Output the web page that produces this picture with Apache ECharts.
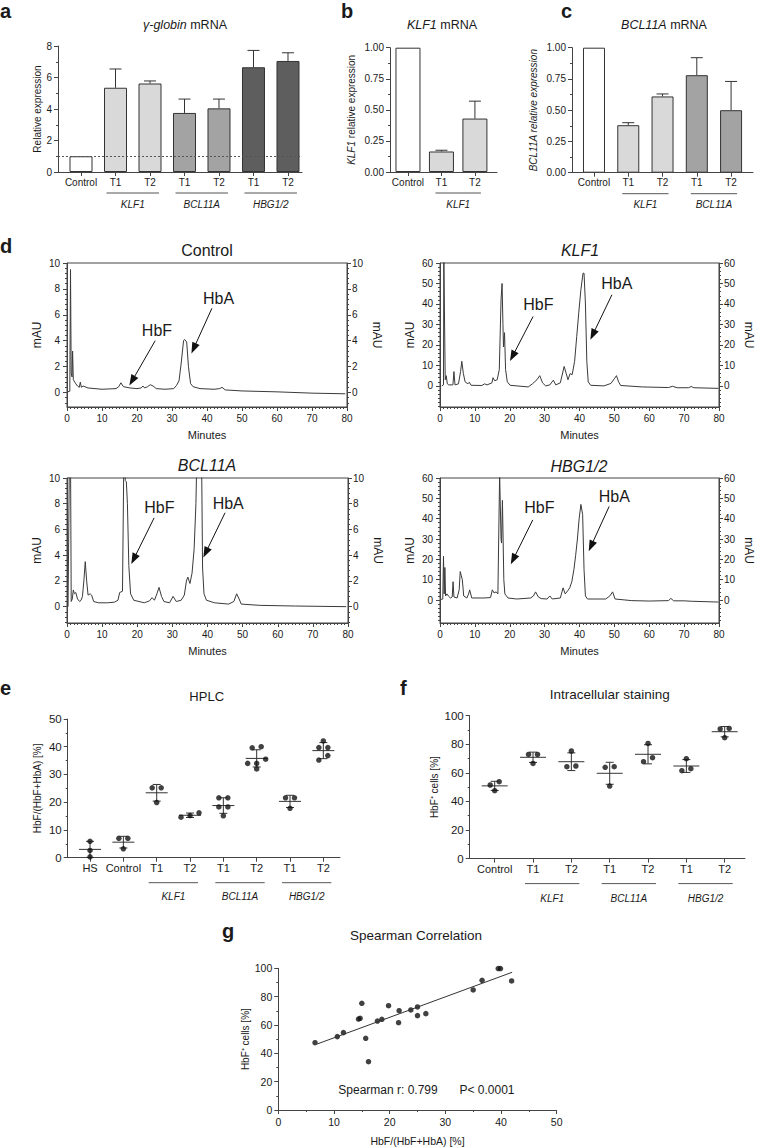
<!DOCTYPE html>
<html>
<head>
<meta charset="utf-8">
<script src="https://cdn.jsdelivr.net/npm/echarts@6.0.0/dist/echarts.min.js"></script>
<style>
html, body { margin: 0; padding: 0; background: #fff; }
#main { width: 758px; height: 1147px; }
</style>
</head>
<body>
<div id="main"></div>
<script>
// ---------- a: gamma-globin mRNA ----------
const aNames = ['Control', 'T1', 'T2', 'T1', 'T2', 'T1', 'T2']
const aGene = ['', 'KLF1', 'KLF1', 'BCL11A', 'BCL11A', 'HBG1/2', 'HBG1/2']
const aMean = [1.0, 5.35, 5.62, 3.75, 4.04, 6.65, 7.05]
const aUpper = [null, 6.54, 5.78, 4.63, 4.63, 7.72, 7.57]

// ---------- b: KLF1 mRNA ----------
const bNames = ['Control', 'T1', 'T2']
const bGene = ['', 'KLF1', 'KLF1']
const bMean = [1.0, 0.165, 0.43]
const bUpper = [null, 0.175, 0.57]

// ---------- c: BCL11A mRNA ----------
const cNames = ['Control', 'T1', 'T2', 'T1', 'T2']
const cGene = ['', 'KLF1', 'KLF1', 'BCL11A', 'BCL11A']
const cMean = [1.0, 0.38, 0.61, 0.78, 0.50]
const cUpper = [null, 0.40, 0.63, 0.92, 0.73]

// ---------- d: HPLC chromatograms [minutes, mAU] ----------
const controlTrace = [[0.2, 0.05], [0.8, 0.1], [1.0, 9.5], [1.2, 1.5], [1.45, 1.2], [1.6, 3.2], [1.8, 1.0], [2.2, 0.8], [3.0, 0.5], [3.5, 0.4], [3.8, 0.8], [4.1, 0.4], [4.6, 0.5], [6, 0.35], [10, 0.25], [14, 0.3], [14.8, 0.45], [15.4, 0.75], [16.1, 0.45], [18, 0.35], [20, 0.3], [21.2, 0.35], [21.7, 0.5], [22.2, 0.35], [23, 0.45], [23.8, 0.6], [24.6, 0.5], [25.5, 0.3], [28, 0.25], [30.5, 0.3], [31.3, 0.55], [32.0, 0.9], [32.6, 2.2], [33.3, 4.0], [33.6, 4.1], [34.2, 3.9], [34.7, 2.0], [35.3, 0.7], [36, 0.45], [38, 0.3], [42, 0.25], [43.6, 0.3], [44.3, 0.4], [45.2, 0.2], [50, 0.12], [60, 0.05], [70, -0.05], [79.5, -0.1]]
const klf1Trace = [[0.5, 0], [1.0, 0.5], [1.1, 62], [1.5, 3], [1.8, 5], [2.1, 1], [2.5, 0.5], [3.7, 0.5], [4.0, 7], [4.3, 0.5], [5.3, 1], [5.9, 7], [6.25, 12], [6.7, 6], [7.2, 2], [8.0, 1], [8.4, 1.8], [8.9, 0.3], [12, 0.2], [12.8, 1], [13.5, 0.5], [14.9, 1.5], [15.2, 4], [15.7, 2.5], [16.4, 3], [17.0, 8], [17.5, 42], [17.8, 50], [18.05, 30], [18.2, 19], [18.5, 26], [18.8, 8], [19.3, 2], [20.1, 0.3], [25.3, -0.5], [26.5, 1], [27.8, 3], [28.6, 5], [29.4, 1.5], [30.3, 0], [31.5, 0.5], [32.5, 2.8], [33.2, 0.5], [34.5, 1.5], [35.6, 9.5], [36.2, 6], [36.7, 3], [37.3, 6], [37.9, 5.5], [38.6, 12], [39.2, 24], [39.8, 36], [40.4, 47], [41.0, 55], [41.3, 55], [41.7, 40], [42.1, 12], [42.5, 2], [43.2, 0.3], [47, 0], [49, 1.2], [50, 3.5], [50.6, 5], [51.2, 2], [51.8, 0.2], [58, -0.5], [65.5, -0.8], [66.7, -0.2], [68, -0.9], [71.3, -0.9], [72, -0.3], [72.8, -0.9], [79.8, -1.2]]
const bcl11aTrace = [[0.3, 0], [0.7, 12], [1.0, 12], [1.2, 0.4], [1.5, 0.6], [1.8, 1.3], [2.1, 1.0], [2.5, 1.1], [3.0, 0.6], [3.6, 0.4], [4.0, 0.5], [4.4, 0.8], [4.8, 2.0], [5.2, 3.5], [5.6, 2.0], [6.0, 0.9], [6.6, 1.0], [7.0, 0.9], [7.6, 0.4], [9, 0.3], [11.5, 0.3], [13.5, 0.35], [14.5, 0.5], [15.0, 1.1], [15.8, 1.2], [16.2, 12], [16.6, 9.8], [16.9, 9.7], [17.2, 8], [17.6, 3.2], [18.1, 1.0], [19, 0.5], [22, 0.3], [23.5, 0.45], [24.2, 0.7], [24.9, 0.5], [25.6, 1.0], [26.2, 1.5], [26.9, 0.8], [27.6, 0.4], [29.2, 0.3], [30.2, 0.8], [31.1, 0.4], [32.5, 0.5], [33.4, 0.9], [34.0, 2.0], [34.4, 2.3], [35.0, 1.8], [35.6, 2.6], [36.2, 4.5], [36.7, 8], [37.0, 12], [38.3, 12], [38.6, 3], [39.0, 1.0], [39.7, 0.5], [42, 0.3], [46, 0.2], [47.5, 0.4], [48.3, 1.0], [49.0, 0.6], [49.6, 0.2], [55, 0.1], [65, 0.05], [79.5, 0]]
const hbgTrace = [[0.3, 0.3], [0.8, 0.5], [1.0, 21.5], [1.2, 3], [1.4, 16], [1.6, 2], [2.0, 3], [2.4, 2], [3.0, 1], [3.5, 1.5], [3.75, 9], [4.0, 1.5], [4.9, 1], [5.5, 5], [5.8, 14], [6.1, 12], [6.4, 10], [6.8, 2], [7.7, 1], [8.2, 3], [8.5, 5], [9.1, 1], [12.6, 1], [14.5, 1.2], [15.0, 5], [15.5, 3.5], [16.1, 4], [16.6, 3], [17.1, 62], [17.5, 30], [17.65, 28], [17.9, 49], [18.3, 10], [18.6, 3], [19.5, 1], [22, 0.5], [26, 1], [26.8, 2], [27.4, 4], [28.2, 1.5], [29, 0.7], [30.7, 0.5], [31.5, 2], [32.2, 0.5], [34.5, 1], [35.3, 6], [35.9, 3], [36.6, 4.5], [37.2, 6], [37.8, 9], [38.4, 15], [38.9, 22], [39.4, 30], [39.9, 40], [40.4, 47], [40.9, 42], [41.3, 15], [41.7, 2], [42.3, 0.5], [47.5, 0.5], [48.7, 2], [49.5, 4], [50.2, 0.5], [55, -0.3], [60, -0.5], [65.5, -0.3], [66.2, 0.8], [67, -0.4], [70, -0.4], [72, -0.6], [79.8, -1]]

// ---------- e: HPLC HbF/(HbF+HbA) [%] ----------
const eNames = ['HS', 'Control', 'T1', 'T2', 'T1', 'T2', 'T1', 'T2']
const eGene = ['', '', 'KLF1', 'KLF1', 'BCL11A', 'BCL11A', 'HBG1/2', 'HBG1/2']
const ePoints = [
  [5.9, 2.6, 0.3],
  [7.0, 7.0, 3.2],
  [25.2, 25.2, 19.9],
  [16.2, 15.2, 14.6],
  [21.6, 21.6, 18.3, 18.3, 15.1],
  [39.6, 40.0, 34.0, 35.5, 34.0, 32.0],
  [21.6, 21.6, 17.8],
  [42.1, 39.7, 39.7, 35.2, 36.8]
]
const eMean = [3.0, 5.6, 23.4, 15.3, 18.8, 35.8, 20.3, 38.6]
const eSD = [2.9, 2.1, 3.0, 0.8, 2.8, 3.1, 2.2, 2.9]

// ---------- f: intracellular staining, HbF+ cells [%] ----------
const fNames = ['Control', 'T1', 'T2', 'T1', 'T2', 'T1', 'T2']
const fGene = ['', 'KLF1', 'KLF1', 'BCL11A', 'BCL11A', 'HBG1/2', 'HBG1/2']
const fPoints = [
  [51.5, 53.8, 47.5],
  [72.9, 72.9, 66.6],
  [75.3, 64.3, 64.8],
  [63.9, 64.3, 50.8],
  [80.6, 67.8, 70.6],
  [69.9, 61.5, 62.9],
  [90.7, 91.1, 84.6]
]
const fMean = [50.9, 70.9, 67.8, 59.7, 73.0, 64.8, 88.8]
const fSD = [3.2, 3.6, 6.2, 7.7, 6.7, 4.5, 3.6]

// ---------- g: Spearman correlation ----------
const gHplc = [6.6, 10.6, 11.7, 14.4, 14.7, 15.0, 15.7, 16.2, 17.8, 18.6, 19.8, 21.6, 21.7, 23.8, 25.0, 25.0, 26.5, 35.0, 36.6, 39.5, 39.9, 41.9]
const gStain = [47.5, 51.8, 54.6, 64.2, 64.7, 75.3, 50.6, 34.1, 62.8, 64.0, 73.6, 61.6, 70.1, 70.6, 66.6, 72.7, 68.0, 84.7, 91.5, 99.8, 99.8, 91.1]
const gFitX = [7, 42]
const gFitY = [46.6, 97.2]

// ---------- styles ----------
const FONT = '"Liberation Sans", Arial, sans-serif'
const INK = '#1a1a1a'
const AXIS = '#444'
const geneFill = { '': '#ffffff', 'KLF1': '#d9d9d9', 'BCL11A': '#a3a3a3', 'HBG1/2': '#5e5e5e' }

const chart = echarts.init(document.getElementById('main'), null, { renderer: 'svg' })

const grids = []
const xAxes = []
const yAxes = []
const series = []

const lineStyle = { color: AXIS, width: 1 }
const axisLine = { show: true, onZero: false, lineStyle: lineStyle }

function labelStyle(size, extra) {
  return Object.assign({ fontSize: size || 10, color: INK, fontFamily: FONT }, extra)
}
function nameStyle(size) {
  const s = size || 10
  return {
    fontSize: s, color: INK, fontFamily: FONT,
    rich: {
      i: { fontSize: s, fontStyle: 'italic', color: INK, fontFamily: FONT },
      n: { fontSize: s, color: INK, fontFamily: FONT }
    }
  }
}

// one tick per group on a value axis, so the groups sit where the picture puts them
function groupXAxis(gi, names, range, size) {
  const idx = names.map((_, i) => i)
  xAxes.push({
    gridIndex: gi, type: 'value', min: range[0], max: range[1],
    axisLine: axisLine, splitLine: { show: false },
    axisTick: { show: true, customValues: idx, length: 4, lineStyle: lineStyle },
    axisLabel: labelStyle(size, { customValues: idx, margin: 5, formatter: v => names[Math.round(v)] })
  })
  return xAxes.length - 1
}

function valueYAxis(gi, max, step, name, gap, size, fmt) {
  yAxes.push({
    gridIndex: gi, type: 'value', min: 0, max: max, interval: step,
    axisLine: axisLine, splitLine: { show: false },
    axisTick: { show: true, length: 4, lineStyle: lineStyle },
    minorTick: { show: true, splitNumber: 2, length: 2, lineStyle: lineStyle },
    axisLabel: labelStyle(size, { margin: 6, formatter: fmt }),
    name: name, nameLocation: 'middle', nameGap: gap, nameTextStyle: nameStyle(10)
  })
  return yAxes.length - 1
}

// upper error bar on a bar
function upperBar(params, api) {
  const x = api.value(0)
  const base = api.coord([x, api.value(1)])
  const top = api.coord([x, api.value(2)])
  const st = { stroke: '#333', lineWidth: 1 }
  return {
    type: 'group', children: [
      { type: 'line', shape: { x1: base[0], y1: base[1], x2: top[0], y2: top[1] }, style: st },
      { type: 'line', shape: { x1: top[0] - 6, y1: top[1], x2: top[0] + 6, y2: top[1] }, style: st }
    ]
  }
}

// mean line with +/- SD whiskers
function meanSd(meanHalf) {
  return function (params, api) {
    const x = api.value(0), m = api.value(1), sd = api.value(2)
    const mid = api.coord([x, m])
    const hi = api.coord([x, m + sd])
    const lo = api.coord([x, m - sd])
    const st = { stroke: '#333', lineWidth: 1 }
    return {
      type: 'group', children: [
        { type: 'line', shape: { x1: hi[0], y1: hi[1], x2: lo[0], y2: lo[1] }, style: st },
        { type: 'line', shape: { x1: hi[0] - 4, y1: hi[1], x2: hi[0] + 4, y2: hi[1] }, style: st },
        { type: 'line', shape: { x1: lo[0] - 4, y1: lo[1], x2: lo[0] + 4, y2: lo[1] }, style: st },
        { type: 'line', shape: { x1: mid[0] - meanHalf, y1: mid[1], x2: mid[0] + meanHalf, y2: mid[1] }, style: st }
      ]
    }
  }
}

// spread dots of nearly equal value side by side, like a scatter dot plot
function dotLayout(groups, tol, gap) {
  const out = []
  groups.forEach((vals, gi) => {
    const rows = []
    vals.slice().sort((a, b) => a - b).forEach(v => {
      const row = rows[rows.length - 1]
      if (row && v - row[0] < tol) row.push(v)
      else rows.push([v])
    })
    rows.forEach(row => row.forEach((v, k) => {
      out.push({ value: [gi, v], symbolOffset: [(k - (row.length - 1) / 2) * gap, 0] })
    }))
  })
  return out
}

function barPanel(box, range, yMax, yStep, yName, gap, fmt, names, gene, mean, upper, barW) {
  const gi = grids.push(box) - 1
  const xi = groupXAxis(gi, names, range, 10)
  const yi = valueYAxis(gi, yMax, yStep, yName, gap, 10, fmt)
  series.push({
    type: 'bar', xAxisIndex: xi, yAxisIndex: yi, barWidth: barW,
    itemStyle: { borderColor: '#333', borderWidth: 1 },
    data: mean.map((v, i) => ({ value: [i, v], itemStyle: { color: geneFill[gene[i]] } }))
  })
  const barIndex = series.length - 1
  series.push({
    type: 'custom', xAxisIndex: xi, yAxisIndex: yi, renderItem: upperBar,
    data: mean.map((v, i) => [i, v, upper[i]]).filter(d => d[2] != null)
  })
  return { gi: gi, bar: barIndex }
}

function dotPanel(box, range, yMax, yStep, yName, gap, names, points, mean, sd, tol, meanHalf) {
  const gi = grids.push(box) - 1
  const xi = groupXAxis(gi, names, range, 11)
  const yi = valueYAxis(gi, yMax, yStep, yName, gap, 11.5)
  series.push({
    type: 'custom', xAxisIndex: xi, yAxisIndex: yi, renderItem: meanSd(meanHalf),
    data: mean.map((m, i) => [i, m, sd[i]])
  })
  series.push({
    type: 'scatter', xAxisIndex: xi, yAxisIndex: yi, symbolSize: 5.5,
    itemStyle: { color: '#111' },
    data: dotLayout(points, tol, 9)
  })
  return gi
}

function chromPanel(box, yMin, yMax, yStep, trace, notes) {
  const gi = grids.push(Object.assign({ show: true, borderColor: AXIS, borderWidth: 1 }, box)) - 1
  xAxes.push({
    gridIndex: gi, type: 'value', min: 0, max: 80, interval: 10,
    name: 'Minutes', nameLocation: 'middle', nameGap: 22, nameTextStyle: nameStyle(11),
    axisLine: axisLine, splitLine: { show: false },
    axisTick: { length: 4, lineStyle: lineStyle },
    minorTick: { show: true, splitNumber: 10, length: 2, lineStyle: lineStyle },
    axisLabel: labelStyle(10, { margin: 6 })
  })
  const xi = xAxes.length - 1
  const minorStep = yStep / 5
  const majors = [], minors = []
  for (let k = Math.ceil(yMin / minorStep); k * minorStep <= yMax + 1e-9; k++) {
    const v = Math.round(k * minorStep * 1000) / 1000
    minors.push(v)
    if (v >= 0 && k % 5 === 0) majors.push(v)
  }
  const base = { gridIndex: gi, type: 'value', min: yMin, max: yMax, splitLine: { show: false } }
  yAxes.push(Object.assign({}, base, {
    position: 'left', axisLine: axisLine,
    axisTick: { customValues: majors, length: 4, lineStyle: lineStyle },
    axisLabel: labelStyle(10, { customValues: majors, margin: 7 }),
    name: 'mAU', nameLocation: 'middle', nameGap: 24, nameTextStyle: nameStyle(12)
  }))
  const yi = yAxes.length - 1
  yAxes.push(Object.assign({}, base, {
    position: 'left', axisLine: { show: false },
    axisTick: { customValues: minors, length: 2, lineStyle: lineStyle }, axisLabel: { show: false }
  }))
  yAxes.push(Object.assign({}, base, {
    position: 'right', axisLine: axisLine,
    axisTick: { customValues: majors, length: 4, lineStyle: lineStyle },
    axisLabel: labelStyle(10, { customValues: majors, margin: 5 }),
    name: 'mAU', nameLocation: 'middle', nameGap: 24, nameRotate: -90, nameTextStyle: nameStyle(12)
  }))
  yAxes.push(Object.assign({}, base, {
    position: 'right', axisLine: { show: false },
    axisTick: { customValues: minors, length: 2, lineStyle: lineStyle }, axisLabel: { show: false }
  }))
  series.push({
    type: 'line', xAxisIndex: xi, yAxisIndex: yi, data: trace, showSymbol: false, clip: true,
    lineStyle: { color: '#3a3a3a', width: 1 },
    markLine: {
      silent: true, symbol: ['none', 'triangle'], symbolSize: [8, 11],
      lineStyle: { color: '#111', width: 1, type: 'solid' }, label: { show: false },
      data: notes.map(n => [{ coord: n.from }, { coord: n.to }])
    },
    markPoint: {
      silent: true, symbol: 'circle', symbolSize: 0,
      label: { show: true, position: 'inside', formatter: p => p.name, fontSize: 16, color: INK, fontFamily: FONT },
      data: notes.map(n => ({ name: n.text, coord: n.at }))
    }
  })
}

// ---------- build the panels ----------
const pa = barPanel({ left: 58, top: 46, width: 244, height: 126 }, [-0.667, 6.406], 8, 2,
  'Relative expression', 15, null, aNames, aGene, aMean, aUpper, 23)
series[pa.bar].markLine = {
  silent: true, symbol: 'none', label: { show: false },
  lineStyle: { type: [2, 2], color: '#555', width: 1 },
  data: [{ yAxis: 1 }]
}
const pb = barPanel({ left: 390, top: 47.7, width: 107, height: 124.3 }, [-0.537, 2.66], 1, 0.25,
  '{i|KLF1}{n| relative expression}', 34, v => v.toFixed(2), bNames, bGene, bMean, bUpper, 25)
const pc = barPanel({ left: 572, top: 47.7, width: 181, height: 125 }, [-0.642, 4.64], 1, 0.25,
  '{i|BCL11A relative expression}', 34, v => v.toFixed(2), cNames, cGene, cMean, cUpper, 22)

chromPanel({ left: 67, top: 263, width: 280, height: 144 }, -1.12, 10, 2, controlTrace, [
  { text: 'HbF', at: [25.7, 4.8], from: [25.2, 4.0], to: [18.6, 0.9] },
  { text: 'HbA', at: [43.3, 7.25], from: [41.4, 6.5], to: [36.2, 3.4] }
])
chromPanel({ left: 440, top: 263, width: 279, height: 144 }, -10.3, 60, 10, klf1Trace, [
  { text: 'HbF', at: [28.2, 39.6], from: [26.7, 33.9], to: [20.8, 14.5] },
  { text: 'HbA', at: [50.7, 50.2], from: [49.3, 44.5], to: [43.8, 25] }
])
chromPanel({ left: 67, top: 478, width: 281, height: 145 }, -1.27, 10, 2, bcl11aTrace, [
  { text: 'HbF', at: [26.3, 7.74], from: [24.8, 6.9], to: [19.0, 3.7] },
  { text: 'HbA', at: [45.9, 8.05], from: [45, 7.3], to: [39.5, 4.2] }
])
chromPanel({ left: 440, top: 478, width: 279, height: 145 }, -11.3, 60, 10, hbgTrace, [
  { text: 'HbF', at: [28.5, 45.7], from: [26.6, 39.4], to: [21.0, 20] },
  { text: 'HbA', at: [50, 50.9], from: [48.5, 46], to: [43.3, 26.5] }
])

const ge = dotPanel({ left: 67.7, top: 719, width: 272.3, height: 138.7 }, [-0.67, 7.5], 50, 10,
  'HbF/(HbF+HbA) [%]', 25, eNames, ePoints, eMean, eSD, 1.8, 11)
const gf = dotPanel({ left: 469.7, top: 715.7, width: 275.3, height: 142.9 }, [-0.652, 6.53], 100, 20,
  'HbF⁺ cells [%]', 30, fNames, fPoints, fMean, fSD, 3.5, 13)

// g: correlation scatter with fitted line
const gg = grids.push({ left: 278.3, top: 968.3, width: 278.4, height: 141.7 }) - 1
xAxes.push({
  gridIndex: gg, type: 'value', min: 0, max: 50, interval: 10,
  axisLine: axisLine, splitLine: { show: false },
  axisTick: { length: 4, lineStyle: lineStyle },
  minorTick: { show: true, splitNumber: 2, length: 2, lineStyle: lineStyle },
  axisLabel: labelStyle(10.5, { margin: 6 }),
  name: 'HbF/(HbF+HbA) [%]', nameLocation: 'middle', nameGap: 25, nameTextStyle: nameStyle(10.5)
})
const gyi = valueYAxis(gg, 100, 20, 'HbF⁺ cells [%]', 28, 10.5)
series.push({
  type: 'line', xAxisIndex: xAxes.length - 1, yAxisIndex: gyi, showSymbol: false,
  lineStyle: { color: '#333', width: 1 },
  data: gFitX.map((x, i) => [x, gFitY[i]])
})
series.push({
  type: 'scatter', xAxisIndex: xAxes.length - 1, yAxisIndex: gyi, symbolSize: 5.5,
  itemStyle: { color: '#111' },
  data: gHplc.map((x, i) => [x, gStain[i]])
})

// ---------- titles and panel letters ----------
function text(x, y, str, size, opts) {
  const o = opts || {}
  return {
    type: 'text', x: x, y: y, silent: true,
    style: {
      text: str, fill: INK, fontSize: size, fontFamily: FONT,
      fontWeight: o.bold ? 'bold' : 'normal', fontStyle: o.italic ? 'italic' : 'normal',
      textAlign: o.align || 'center', align: o.align || 'center',
      textVerticalAlign: 'middle', verticalAlign: 'middle',
      rich: {
        i: { fontSize: size, fontFamily: FONT, fontStyle: 'italic', fill: INK },
        n: { fontSize: size, fontFamily: FONT, fill: INK }
      }
    }
  }
}

const graphics = [
  text(0, 11, 'a', 20, { bold: true, align: 'left' }),
  text(341, 11, 'b', 20, { bold: true, align: 'left' }),
  text(561, 11, 'c', 20, { bold: true, align: 'left' }),
  text(0, 246, 'd', 20, { bold: true, align: 'left' }),
  text(0, 688, 'e', 20, { bold: true, align: 'left' }),
  text(400, 688, 'f', 20, { bold: true, align: 'left' }),
  text(222, 931, 'g', 20, { bold: true, align: 'left' }),
  text(185, 25, '{i|γ-globin}{n| mRNA}', 12.5),
  text(442, 25, '{i|KLF1}{n| mRNA}', 12.5),
  text(664, 25, '{i|BCL11A}{n| mRNA}', 12.5),
  text(207, 250, 'Control', 16),
  text(580, 250, 'KLF1', 16, { italic: true }),
  text(207, 465, 'BCL11A', 16, { italic: true }),
  text(579, 466, 'HBG1/2', 16, { italic: true }),
  text(206.7, 696, 'HPLC', 13),
  text(609.7, 694, 'Intracellular staining', 13.5),
  text(416, 935, 'Spearman Correlation', 13.5),
  text(388, 1090, 'Spearman r: 0.799', 12),
  text(487, 1090, 'P< 0.0001', 12)
]

chart.setOption({
  animation: false,
  backgroundColor: '#fff',
  textStyle: { fontFamily: FONT },
  grid: grids,
  xAxis: xAxes,
  yAxis: yAxes,
  series: series,
  graphic: graphics
})

// gene brackets under the x axis, placed from the axes' own pixel mapping
function groupMarks(gi, genes, lineDy, textDy, pad) {
  const out = []
  let i = 0
  while (i < genes.length) {
    if (!genes[i]) { i++; continue }
    let j = i
    while (j + 1 < genes.length && genes[j + 1] === genes[i]) j++
    const p0 = chart.convertToPixel({ gridIndex: gi }, [i, 0])
    const p1 = chart.convertToPixel({ gridIndex: gi }, [j, 0])
    out.push({
      type: 'line', silent: true,
      shape: { x1: p0[0] - pad, y1: p0[1] + lineDy, x2: p1[0] + pad, y2: p0[1] + lineDy },
      style: { stroke: '#555', lineWidth: 1 }
    })
    out.push(text((p0[0] + p1[0]) / 2, p0[1] + textDy, genes[i], 10, { italic: true }))
    i = j + 1
  }
  return out
}

const brackets = [].concat(
  groupMarks(pa.gi, aGene, 21, 32, 9),
  groupMarks(pb.gi, bGene, 21, 32, 6),
  groupMarks(pc.gi, cGene, 21, 32, 6),
  groupMarks(ge, eGene, 25, 39, 8),
  groupMarks(gf, fGene, 25, 40, 8)
)
chart.setOption({ graphic: graphics.concat(brackets) })
</script>
</body>
</html>
